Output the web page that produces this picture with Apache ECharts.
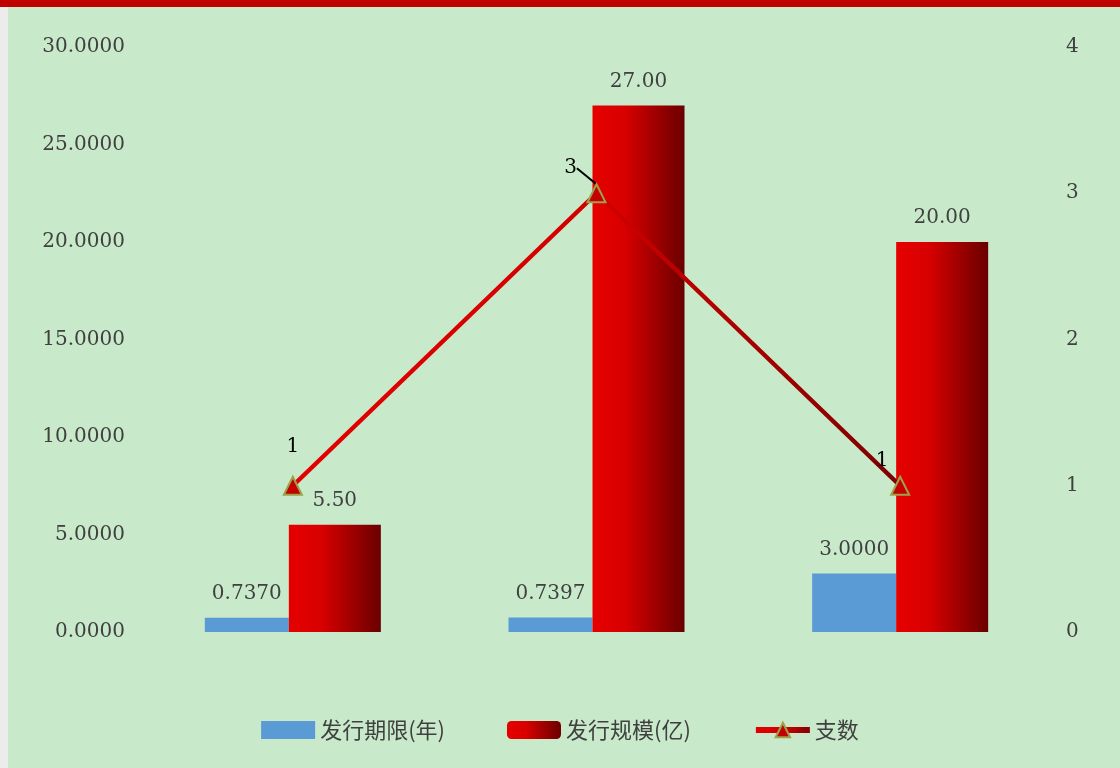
<!DOCTYPE html>
<html>
<head>
<meta charset="utf-8">
<script src="https://cdn.jsdelivr.net/npm/echarts@6/dist/echarts.min.js"></script>
<style>
html,body{margin:0;padding:0;background:#c9e9cb;}
#main{width:1120px;height:768px;}
</style>
</head>
<body>
<div id="main"></div>
<script>
var categories = ['1', '2', '3'];
var termYears = [0.7370, 0.7397, 3.0000];
var scaleYi = [5.50, 27.00, 20.00];
var countNum = [1, 3, 1];
var leftTicks = { min: 0, max: 30, interval: 5 };
var rightTicks = { min: 0, max: 4, interval: 1 };

var numFont = 'DejaVu Serif';
var cjkFont = 'Noto Sans CJK SC';

var chart = echarts.init(document.getElementById('main'), null, { renderer: 'canvas' });

var lineLabelOffsets = [[0, -14], [-26, 0], [-18, 0]];

var lineGrad = function () {
  return new echarts.graphic.LinearGradient(0, 0, 1, 0, [
    { offset: 0, color: '#e40000' },
    { offset: 0.5, color: '#d20000' },
    { offset: 1, color: '#7c0000' }
  ]);
};

var option = {
  backgroundColor: '#c9e9cb',
  animation: false,
  graphic: [
    { type: 'rect', left: 0, top: 0, shape: { width: 8, height: 768 }, style: { fill: '#ececec' }, z: 100 },
    { type: 'rect', left: 0, top: 0, shape: { width: 1120, height: 7 }, style: { fill: '#c00000' }, z: 101 }
  ],
  grid: { left: 141, right: 68, top: 47, bottom: 136, containLabel: false },
  legend: {
    bottom: 22,
    left: 'center',
    itemWidth: 54,
    itemHeight: 18,
    itemGap: 62,
    textStyle: { fontFamily: cjkFont, fontSize: 22, color: '#404040' },
    data: [
      { name: '发行期限(年)', icon: 'rect', itemStyle: { color: '#5b9bd5' } },
      { name: '发行规模(亿)', icon: 'roundRect' },
      { name: '支数', lineStyle: { width: 6 } }
    ]
  },
  xAxis: {
    type: 'category',
    data: categories,
    axisLine: { show: false },
    axisTick: { show: false },
    axisLabel: { show: false },
    splitLine: { show: false }
  },
  yAxis: [
    {
      type: 'value', min: leftTicks.min, max: leftTicks.max, interval: leftTicks.interval,
      axisLine: { show: false }, axisTick: { show: false }, splitLine: { show: false },
      axisLabel: { margin: 16, fontFamily: numFont, fontSize: 20, color: '#404040',
        formatter: function (v) { return v.toFixed(4); } }
    },
    {
      type: 'value', min: rightTicks.min, max: rightTicks.max, interval: rightTicks.interval,
      position: 'right',
      axisLine: { show: false }, axisTick: { show: false }, splitLine: { show: false },
      axisLabel: { margin: 14, fontFamily: numFont, fontSize: 20, color: '#404040' }
    }
  ],
  series: [
    {
      name: '发行期限(年)', type: 'bar', yAxisIndex: 0,
      barWidth: 84, barGap: '0%',
      itemStyle: { color: '#5b9bd5' },
      label: { show: true, position: 'top', distance: 14, fontFamily: numFont, fontSize: 20, color: '#404040',
        formatter: function (p) { return p.value.toFixed(4); } },
      data: termYears
    },
    {
      name: '发行规模(亿)', type: 'bar', yAxisIndex: 0,
      barWidth: 92, barGap: '0%',
      itemStyle: {
        color: new echarts.graphic.LinearGradient(0, 0, 1, 0, [
          { offset: 0, color: '#e60000' },
          { offset: 0.35, color: '#d80000' },
          { offset: 1, color: '#6a0000' }
        ])
      },
      label: { show: true, position: 'top', distance: 14, fontFamily: numFont, fontSize: 20, color: '#404040',
        formatter: function (p) { return p.value.toFixed(2); } },
      data: scaleYi
    },
    {
      name: '支数', type: 'line', yAxisIndex: 1,
      symbol: 'triangle', symbolSize: 18,
      z: 5,
      lineStyle: { width: 4.5, color: lineGrad() },
      itemStyle: { color: '#c40000', borderColor: '#9da24a', borderWidth: 2 },
      label: { show: true, position: 'top', fontFamily: numFont, fontSize: 20, color: '#000' },
      labelLine: { show: true, showAbove: false, length2: 0, minTurnAngle: 180, lineStyle: { color: '#000', width: 2 } },
      labelLayout: function (params) {
        var o = lineLabelOffsets[params.dataIndex];
        return { dx: o[0], dy: o[1] };
      },
      data: countNum.map(function (v, i) {
        var item = { value: v };
        if (i !== 1) { item.labelLine = { show: false }; }
        return item;
      })
    }
  ]
};
chart.setOption(option);
</script>
</body>
</html>
